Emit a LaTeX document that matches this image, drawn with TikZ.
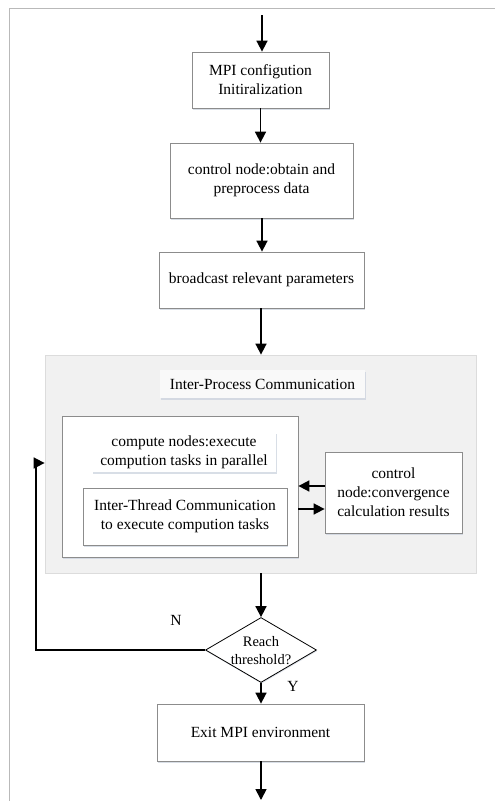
\documentclass[tikz,border=0pt]{standalone}
\usepackage{fontspec}
\setmainfont{Liberation Serif}
\usetikzlibrary{shapes.geometric,arrows.meta,shadows}
\definecolor{boxline}{HTML}{8C8C8C}
\definecolor{regfill}{HTML}{F1F1F1}
\definecolor{regline}{HTML}{DCDCDC}
\definecolor{shad}{HTML}{C8D0DC}
\begin{document}
\begin{tikzpicture}[x=1pt,y=-1pt,
  sh/.style={drop shadow={shadow xshift=0.8pt,shadow yshift=-1.6pt,fill=shad,opacity=0.7}},
  box/.style={draw=boxline,line width=0.8pt,fill=white,sh,inner sep=0pt,align=center,
    font=\fontsize{15.5}{19}\selectfont},
  lbl/.style={fill=white,sh,inner sep=0pt,align=center,font=\fontsize{15.5}{19}\selectfont},
  arr/.style={line width=1.7pt,-{Triangle[length=11pt,width=11pt]}},
  txt/.style={font=\fontsize{15.5}{19}\selectfont,inner sep=0pt}]
\useasboundingbox (0,0) rectangle (495,801);
\fill[white] (0,0) rectangle (495,801);
% outer frame
\draw[gray!55,line width=0.8pt] (9.5,801) -- (9.5,8.5) -- (495,8.5);

% gray region
\node[draw=regline,fill=regfill,line width=0.8pt,minimum width=431pt,minimum height=218pt,inner sep=0pt,
  drop shadow={shadow xshift=0.6pt,shadow yshift=-1.2pt,fill=shad,opacity=0.5}] (reg) at (260.5,464) {};

\node[box,minimum width=137pt,minimum height=56pt] (b1) at (260.5,80) {MPI configution\\Initiralization};
\node[box,minimum width=183pt,minimum height=75pt] (b2) at (261.5,180.5) {control node:obtain and\\preprocess data};
\node[box,minimum width=205pt,minimum height=56pt] (b3) at (261.5,280) {broadcast relevant parameters};

\node[lbl,minimum width=205pt,minimum height=28pt,fill=white!60!regfill] (ipc) at (262.5,384) {Inter-Process Communication};
\node[box,minimum width=236pt,minimum height=141pt] (inner) at (180,486.5) {};
\node[lbl,minimum width=184pt,minimum height=40pt] (comp) at (184,452) {compute nodes:execute\\compution tasks in parallel};
\node[box,minimum width=204pt,minimum height=57pt] (itc) at (185,516.5) {Inter-Thread Communication\\to execute compution tasks};
\node[box,minimum width=137pt,minimum height=81pt] (ctrl) at (393.5,492.5) {control\\node:convergence\\calculation results};

\node[draw=black,line width=0.8pt,fill=white,diamond,minimum width=111pt,minimum height=65pt,inner sep=0pt,
  drop shadow={shadow xshift=0.6pt,shadow yshift=-1.2pt,fill=shad,opacity=0.6}] (dia) at (261,650) {};
\node[align=center,inner sep=0pt,font=\fontsize{14.5}{18}\selectfont] (diat) at (261,651) {Reach\\threshold?};

\node[box,minimum width=207pt,minimum height=57pt] (exit) at (260.5,732.5) {Exit MPI environment};

\node[txt] (nlab) at (176,620) {N};
\node[txt] (ylab) at (293,686) {Y};

% connectors
\coordinate (top) at (262,15);
\coordinate (bot) at (261,800);
\coordinate (fb) at (36,463);
\draw[arr] (top) -- (top |- b1.north);
\draw[arr] (b1.south) -- (b1.south |- b2.north);
\draw[arr] (b2.south -| 262,0) -- (262,0 |- b3.north);
\draw[arr] (b3.south -| 261,0) -- (261,0 |- reg.north);
\draw[arr] (reg.south -| 261,0) -- (dia.north);
\draw[arr] (dia.south) -- (dia.south |- exit.north);
\draw[arr] (exit.south -| 261,0) -- (bot);
\draw[arr] (ctrl.west |- 0,486) -- (inner.east |- 0,486);
\draw[arr] (inner.east |- 0,509) -- (ctrl.west |- 0,509);
\draw[arr] (dia.west) -| (fb) -- (reg.west |- fb);
\end{tikzpicture}
\end{document}
